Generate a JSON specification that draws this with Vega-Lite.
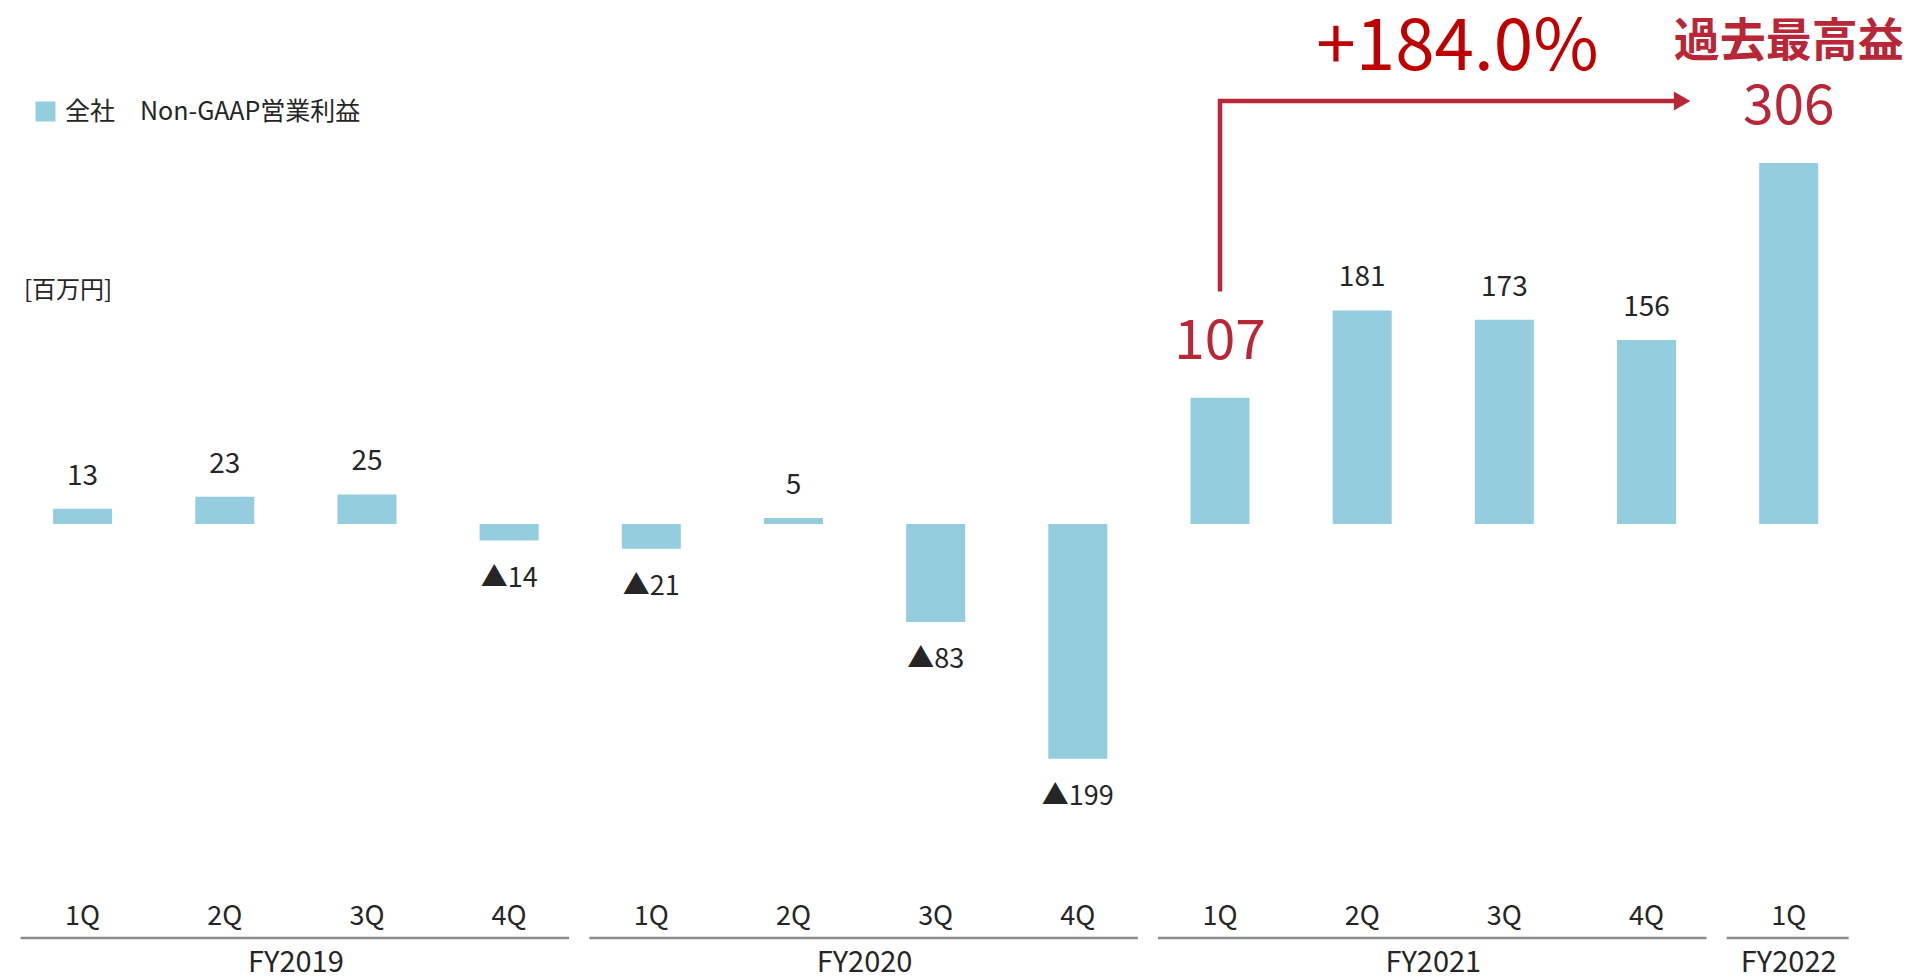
{
  "$schema": "https://vega.github.io/schema/vega-lite/v6.json",
  "width": 1912,
  "height": 979,
  "autosize": {"type": "none"},
  "padding": 0,
  "background": "white",
  "config": {"view": {"stroke": null}, "font": "Noto Sans CJK JP"},
  "datasets": {
    "q": [
      {"i": 0, "fy": "FY2019", "q": "1Q", "value": 13, "label": "13", "hl": false},
      {"i": 1, "fy": "FY2019", "q": "2Q", "value": 23, "label": "23", "hl": false},
      {"i": 2, "fy": "FY2019", "q": "3Q", "value": 25, "label": "25", "hl": false},
      {"i": 3, "fy": "FY2019", "q": "4Q", "value": -14, "label": "▲14", "hl": false},
      {"i": 4, "fy": "FY2020", "q": "1Q", "value": -21, "label": "▲21", "hl": false},
      {"i": 5, "fy": "FY2020", "q": "2Q", "value": 5, "label": "5", "hl": false},
      {"i": 6, "fy": "FY2020", "q": "3Q", "value": -83, "label": "▲83", "hl": false},
      {"i": 7, "fy": "FY2020", "q": "4Q", "value": -199, "label": "▲199", "hl": false},
      {"i": 8, "fy": "FY2021", "q": "1Q", "value": 107, "label": "107", "hl": true},
      {"i": 9, "fy": "FY2021", "q": "2Q", "value": 181, "label": "181", "hl": false},
      {"i": 10, "fy": "FY2021", "q": "3Q", "value": 173, "label": "173", "hl": false},
      {"i": 11, "fy": "FY2021", "q": "4Q", "value": 156, "label": "156", "hl": false},
      {"i": 12, "fy": "FY2022", "q": "1Q", "value": 306, "label": "306", "hl": true, "note": "過去最高益"}
    ],
    "arrow": [
      {"i": 8, "v": 197, "o": 1},
      {"i": 8, "v": 358.5, "o": 2},
      {"i": 11.2, "v": 358.5, "o": 3}
    ],
    "head": [
      {"i": 11.25, "v": 358.5}
    ],
    "growth": [
      {"label": "+184.0%"}
    ],
    "unit": [
      {"label": "[百万円]"}
    ]
  },
  "layer": [
    {
      "mark": {"type": "rule", "color": "#D9D9D9", "strokeWidth": 2},
      "encoding": {
        "x": {"datum": -0.5, "type": "quantitative", "scale": {"domain": [-0.5458, 12.832], "nice": false, "zero": false}, "axis": null},
        "x2": {"datum": 12.5},
        "y": {"datum": 0, "type": "quantitative", "scale": {"domain": [-385.6, 444.07], "nice": false, "zero": false}, "axis": null}
      }
    },
    {
      "data": {"name": "q"},
      "mark": {"type": "bar", "width": 59},
      "encoding": {
        "x": {"field": "i", "type": "quantitative", "scale": {"domain": [-0.5458, 12.832], "nice": false, "zero": false}, "axis": null},
        "y": {"field": "value", "type": "quantitative", "scale": {"domain": [-385.6, 444.07], "nice": false, "zero": false}, "axis": null},
        "y2": {"datum": 0},
        "color": {"datum": "全社　Non-GAAP営業利益", "type": "nominal", "scale": {"range": ["#94CDDD"]},
          "legend": {"orient": "none", "legendX": 33, "legendY": 99, "title": null, "symbolType": "square", "symbolSize": 400, "symbolStrokeWidth": 0, "labelFontSize": 25, "labelFont": "Noto Sans CJK JP", "labelColor": "#262626", "labelOffset": 7, "labelLimit": 600, "padding": 0}}
      }
    },
    {
      "data": {"name": "q"},
      "transform": [{"filter": "datum.value >= 0 && !datum.hl"}],
      "mark": {"type": "text", "dy": -24, "baseline": "alphabetic", "fontSize": 28, "fill": "#262626"},
      "encoding": {
        "x": {"field": "i", "type": "quantitative", "scale": {"domain": [-0.5458, 12.832], "nice": false, "zero": false}, "axis": null},
        "y": {"field": "value", "type": "quantitative", "scale": {"domain": [-385.6, 444.07], "nice": false, "zero": false}, "axis": null},
        "text": {"field": "label"}
      }
    },
    {
      "data": {"name": "q"},
      "transform": [{"filter": "datum.value < 0"}],
      "mark": {"type": "text", "dy": 46, "baseline": "alphabetic", "fontSize": 27, "fill": "#262626"},
      "encoding": {
        "x": {"field": "i", "type": "quantitative", "scale": {"domain": [-0.5458, 12.832], "nice": false, "zero": false}, "axis": null},
        "y": {"field": "value", "type": "quantitative", "scale": {"domain": [-385.6, 444.07], "nice": false, "zero": false}, "axis": null},
        "text": {"field": "label"}
      }
    },
    {
      "data": {"name": "q"},
      "transform": [{"filter": "datum.hl"}],
      "mark": {"type": "text", "dy": -39, "baseline": "alphabetic", "fontSize": 55, "fill": "#B82637"},
      "encoding": {
        "x": {"field": "i", "type": "quantitative", "scale": {"domain": [-0.5458, 12.832], "nice": false, "zero": false}, "axis": null},
        "y": {"field": "value", "type": "quantitative", "scale": {"domain": [-385.6, 444.07], "nice": false, "zero": false}, "axis": null},
        "text": {"field": "label"}
      }
    },
    {
      "data": {"name": "q"},
      "transform": [{"filter": "isValid(datum.note)"}],
      "mark": {"type": "text", "dy": -107, "baseline": "alphabetic", "fontSize": 46, "fontWeight": "bold", "fill": "#B82637"},
      "encoding": {
        "x": {"field": "i", "type": "quantitative", "scale": {"domain": [-0.5458, 12.832], "nice": false, "zero": false}, "axis": null},
        "y": {"field": "value", "type": "quantitative", "scale": {"domain": [-385.6, 444.07], "nice": false, "zero": false}, "axis": null},
        "text": {"field": "note"}
      }
    },
    {
      "data": {"name": "q"},
      "mark": {"type": "text", "baseline": "alphabetic", "fontSize": 27, "fill": "#262626"},
      "encoding": {
        "x": {"field": "i", "type": "quantitative", "scale": {"domain": [-0.5458, 12.832], "nice": false, "zero": false}, "axis": null},
        "y": {"datum": -339.8, "type": "quantitative", "scale": {"domain": [-385.6, 444.07], "nice": false, "zero": false}, "axis": null},
        "text": {"field": "q"}
      }
    },
    {
      "data": {"name": "q"},
      "mark": {"type": "rule", "color": "#8C8C8C", "strokeWidth": 2.5, "xOffset": -62, "x2Offset": 60},
      "encoding": {
        "x": {"aggregate": "min", "field": "i", "type": "quantitative", "scale": {"domain": [-0.5458, 12.832], "nice": false, "zero": false}, "axis": null},
        "x2": {"aggregate": "max", "field": "i"},
        "y": {"datum": -350.8, "type": "quantitative", "scale": {"domain": [-385.6, 444.07], "nice": false, "zero": false}, "axis": null},
        "detail": {"field": "fy"}
      }
    },
    {
      "data": {"name": "q"},
      "mark": {"type": "text", "baseline": "alphabetic", "fontSize": 29, "fill": "#262626"},
      "encoding": {
        "x": {"aggregate": "mean", "field": "i", "type": "quantitative", "scale": {"domain": [-0.5458, 12.832], "nice": false, "zero": false}, "axis": null},
        "y": {"datum": -379.7, "type": "quantitative", "scale": {"domain": [-385.6, 444.07], "nice": false, "zero": false}, "axis": null},
        "text": {"field": "fy"}
      }
    },
    {
      "data": {"name": "arrow"},
      "mark": {"type": "line", "color": "#B82637", "strokeWidth": 4.5, "strokeCap": "butt", "strokeJoin": "miter"},
      "encoding": {
        "x": {"field": "i", "type": "quantitative", "scale": {"domain": [-0.5458, 12.832], "nice": false, "zero": false}, "axis": null},
        "y": {"field": "v", "type": "quantitative", "scale": {"domain": [-385.6, 444.07], "nice": false, "zero": false}, "axis": null},
        "order": {"field": "o"}
      }
    },
    {
      "data": {"name": "head"},
      "mark": {"type": "point", "shape": "triangle-right", "size": 361, "filled": true, "opacity": 1, "color": "#B82637"},
      "encoding": {
        "x": {"field": "i", "type": "quantitative", "scale": {"domain": [-0.5458, 12.832], "nice": false, "zero": false}, "axis": null},
        "y": {"field": "v", "type": "quantitative", "scale": {"domain": [-385.6, 444.07], "nice": false, "zero": false}, "axis": null}
      }
    },
    {
      "data": {"name": "growth"},
      "mark": {"type": "text", "baseline": "alphabetic", "fontSize": 71, "fill": "#C00000", "opacity": 1},
      "encoding": {
        "x": {"datum": 9.67, "type": "quantitative", "scale": {"domain": [-0.5458, 12.832], "nice": false, "zero": false}, "axis": null},
        "y": {"datum": 384.7, "type": "quantitative", "scale": {"domain": [-385.6, 444.07], "nice": false, "zero": false}, "axis": null},
        "text": {"field": "label"}
      }
    },
    {
      "data": {"name": "unit"},
      "mark": {"type": "text", "baseline": "alphabetic", "align": "left", "fontSize": 24, "fill": "#262626"},
      "encoding": {
        "x": {"datum": -0.413, "type": "quantitative", "scale": {"domain": [-0.5458, 12.832], "nice": false, "zero": false}, "axis": null},
        "y": {"datum": 191.5, "type": "quantitative", "scale": {"domain": [-385.6, 444.07], "nice": false, "zero": false}, "axis": null},
        "text": {"field": "label"}
      }
    }
  ]
}
